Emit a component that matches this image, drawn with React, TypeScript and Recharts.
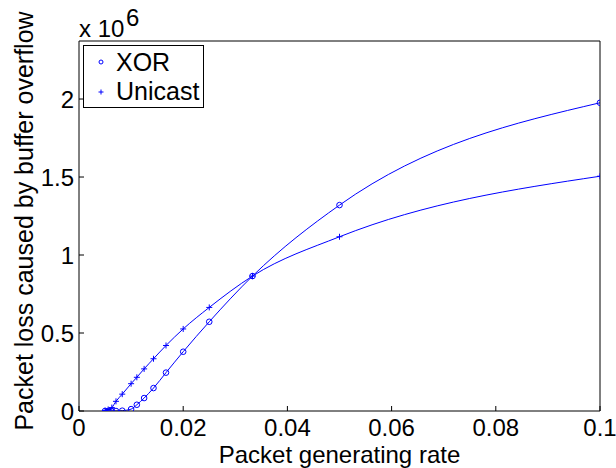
import React from 'react';
import { LineChart, Line, XAxis, YAxis, Legend, Label } from 'recharts';

// packet generating rate (x) and packet loss in units of 10^6
const rates = [0.005, 0.0056, 0.0063, 0.0071, 0.0083, 0.01, 0.0111, 0.0125, 0.0143, 0.0167, 0.02, 0.025, 0.0333, 0.05, 0.1];
const xorLoss = [0, 0, 0, 0, 0.002, 0.012, 0.04, 0.083, 0.147, 0.246, 0.38, 0.572, 0.865, 1.32, 1.976];
const unicastLoss = [0.003, 0.01, 0.022, 0.062, 0.108, 0.175, 0.216, 0.27, 0.335, 0.42, 0.526, 0.664, 0.865, 1.117, 1.505];
const xTicks = [0, 0.02, 0.04, 0.06, 0.08, 0.1];
const yTicks = [0, 0.5, 1, 1.5, 2];

const FONT = '"Liberation Sans", Arial, Helvetica, sans-serif';
const BLUE = '#0000ff';
const FS = 24;

const chartData = rates.map((rate, i) => ({
  rate,
  xor: xorLoss[i],
  unicast: unicastLoss[i],
}));

function XTick({ x, y, payload }: any) {
  return (
    <text x={x} y={y + 25} textAnchor="middle" fontSize={FS} fontFamily={FONT} fill="#000">
      {String(payload.value)}
    </text>
  );
}

function YTick({ x, y, payload }: any) {
  return (
    <text x={x} y={y + 9} textAnchor="end" fontSize={FS} fontFamily={FONT} fill="#000">
      {String(payload.value)}
    </text>
  );
}

function CircleDot(props: any) {
  const { cx, cy, index } = props;
  return <circle key={`o-${index}`} cx={cx} cy={cy} r={2.8} stroke={BLUE} strokeWidth={1} fill="none" />;
}

function PlusDot(props: any) {
  const { cx, cy, index } = props;
  return (
    <path
      key={`p-${index}`}
      d={`M${cx - 3},${cy}H${cx + 3}M${cx},${cy - 3}V${cy + 3}`}
      stroke={BLUE}
      strokeWidth={1}
      fill="none"
    />
  );
}

function LegendBox() {
  return (
    <div
      style={{
        width: 119,
        height: 61,
        border: '1px solid #000',
        background: '#fff',
        position: 'relative',
        fontFamily: FONT,
        color: '#000',
      }}
    >
      <svg width={119} height={61} style={{ position: 'absolute', left: 0, top: 0 }}>
        <circle cx={17} cy={16} r={2} stroke={BLUE} strokeWidth={1} fill="none" />
        <path d="M14.5,46H19.5M17,43.5V48.5" stroke={BLUE} strokeWidth={1} />
        <text x={32} y={25} fontSize={25} fontFamily={FONT} fill="#000">XOR</text>
        <text x={32} y={54} fontSize={25} fontFamily={FONT} fill="#000">Unicast</text>
      </svg>
    </div>
  );
}

function YTitle({ viewBox }: any) {
  const { y, height } = viewBox;
  const cy = y + height / 2 - 5;
  return (
    <g fontFamily={FONT} fill="#000">
      <text transform={`translate(33,${cy}) rotate(-90)`} textAnchor="middle" fontSize={25}>
        Packet loss caused by buffer overflow
      </text>
      <text x={79} y={37} fontSize={FS}>x 10</text>
      <text x={126} y={26} fontSize={FS}>6</text>
    </g>
  );
}

function XTitle({ viewBox }: any) {
  const { x, width } = viewBox;
  return (
    <text x={x + width / 2} y={463} textAnchor="middle" fontSize={FS} fontFamily={FONT} fill="#000">
      Packet generating rate
    </text>
  );
}

export default function App() {
  return (
    <div style={{ position: 'absolute', left: 0, top: 0, width: 616, height: 468, background: '#fff' }}>
      <LineChart
        width={616}
        height={468}
        data={chartData}
        margin={{ top: 40, right: 15, bottom: 7, left: 19 }}
      >
        <XAxis
          dataKey="rate"
          type="number"
          domain={[0, 0.1]}
          ticks={xTicks}
          allowDataOverflow
          height={50}
          stroke="#000"
          tickSize={-5}
          tickMargin={5}
          tick={<XTick />}
        >
          <Label content={<XTitle />} />
        </XAxis>
        <XAxis
          xAxisId="top"
          orientation="top"
          type="number"
          domain={[0, 0.1]}
          ticks={xTicks}
          allowDataOverflow
          height={1}
          stroke="#000"
          tickSize={-5}
          tick={false}
        />
        <YAxis
          type="number"
          domain={[0, 2.372]}
          ticks={yTicks}
          allowDataOverflow
          width={60}
          stroke="#000"
          tickSize={-5}
          tickMargin={10}
          tick={<YTick />}
        >
          <Label content={<YTitle />} />
        </YAxis>
        <YAxis
          yAxisId="right"
          orientation="right"
          type="number"
          domain={[0, 2.372]}
          ticks={yTicks}
          allowDataOverflow
          width={1}
          stroke="#000"
          tickSize={-5}
          tick={false}
        />
        <Legend
          layout="vertical"
          align="center"
          verticalAlign="middle"
          content={() => <LegendBox />}
          wrapperStyle={{ left: 83, top: 45, width: 121, height: 63 }}
        />
        <Line
          type="monotone"
          dataKey="xor"
          name="XOR"
          stroke={BLUE}
          strokeWidth={1}
          dot={CircleDot}
          activeDot={false}
          isAnimationActive={false}
        />
        <Line
          type="monotone"
          dataKey="unicast"
          name="Unicast"
          stroke={BLUE}
          strokeWidth={1}
          dot={PlusDot}
          activeDot={false}
          isAnimationActive={false}
        />
      </LineChart>
    </div>
  );
}
